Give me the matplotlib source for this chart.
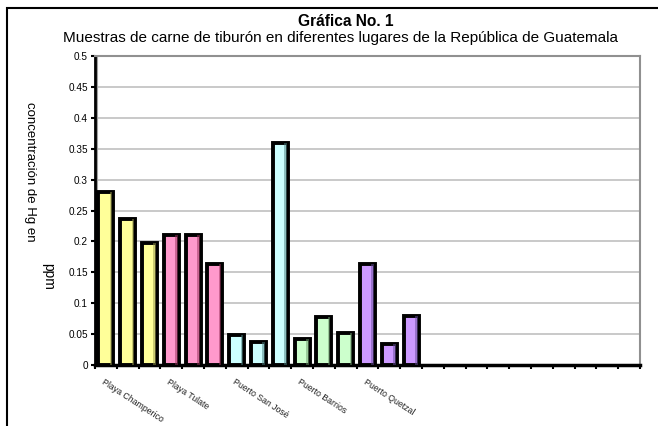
import numpy as np
from matplotlib import pyplot as plt
from matplotlib.patches import Rectangle
from matplotlib import transforms

plt.rcParams['font.family'] = ['Liberation Sans', 'DejaVu Sans']

# mercury (Hg) concentration in ppm, three samples per site
sites = ['Playa Champerico', 'Playa Tulate', 'Puerto San José', 'Puerto Barrios', 'Puerto Quetzal']
champerico = [0.28, 0.236, 0.197]
tulate = [0.21, 0.21, 0.163]
san_jose = [0.048, 0.037, 0.36]
barrios = [0.042, 0.078, 0.052]
quetzal = [0.163, 0.034, 0.079]
site_colors = ['#FFFF99', '#FF99CC', '#CCFFFF', '#CCFFCC', '#CC99FF']
side_colors = ['#99994d', '#99335c', '#4d8080', '#6b996b', '#664d99']
n_slots = 25

yticks = [0, 0.05, 0.1, 0.15, 0.2, 0.25, 0.3, 0.35, 0.4, 0.45, 0.5]
yticklabels = ['0', '0.05', '0.1', '0.15', '0.2', '0.25', '0.3', '0.35', '0.4', '0.45', '0.5']

samples = [champerico, tulate, san_jose, barrios, quetzal]
values = []
colors = []
sides = []
for s, c, d in zip(samples, site_colors, side_colors):
    values += s
    colors += [c] * len(s)
    sides += [d] * len(s)
x = np.arange(len(values))

fig = plt.figure(figsize=(6.58, 4.26), dpi=100)
ax = fig.add_axes([95/658, 1 - 365/426, 545/658, 309/426])

# gridlines on the back wall
for y in yticks[1:]:
    ax.axhline(y, color='#c0c0c0', lw=1.2, zorder=0)
ax.axvline(0.1 - 0.5, color='#a0a0a0', lw=1.5, zorder=0)

w = 0.68
ax.bar(x, values, width=w, color=colors, edgecolor='black', linewidth=2.8, zorder=3)
# darker side face of each bar
ax.bar(x + w/2 - 0.1, values, width=0.12, color=sides, edgecolor='none', zorder=4, alpha=0.5)

ax.set_xlim(-0.5, n_slots - 0.5)
ax.set_ylim(0, 0.5)
ax.set_yticks(yticks)
ax.set_yticklabels(yticklabels, fontsize=7.2)
ax.set_xticks(np.arange(n_slots + 1) - 0.5)
ax.set_xticklabels([])
ax.tick_params(axis='y', direction='out', length=3, width=1.5, pad=2)
ax.tick_params(axis='x', direction='out', length=3, width=1.5)

ax.spines['left'].set_linewidth(2)
ax.spines['bottom'].set_linewidth(2.5)
ax.spines['top'].set_color('#909090')
ax.spines['top'].set_linewidth(1.5)
ax.spines['right'].set_color('#909090')
ax.spines['right'].set_linewidth(1.5)

# site names under the first sample of each group
trans = transforms.blended_transform_factory(ax.transData, ax.transAxes)
for i, name in enumerate(sites):
    ax.text(i * 3 - 0.05, -0.04, name, transform=trans, rotation=-33,
            rotation_mode='anchor', ha='left', va='top', fontsize=6.3, color='#222222')

fig.text(346/658, 1 - 21/426, 'Gráfica No. 1', ha='center', va='center', fontsize=11.2, fontweight='bold')
fig.text(341/658, 1 - 38/426, 'Muestras de carne de tiburón en diferentes lugares de la República de Guatemala',
         ha='center', va='center', fontsize=11)

fig.text(30/658, 1 - 172/426, 'concentración de Hg en', rotation=-90, ha='center', va='center', fontsize=9.5)
fig.text(48/658, 1 - 276/426, 'ppm', rotation=-90, ha='center', va='center', fontsize=10)

# chart border
fig.patches.append(Rectangle((7/658, -0.05), 1.2, 1 - 8/426 + 0.05, transform=fig.transFigure,
                             fill=False, edgecolor='black', linewidth=1.5, figure=fig))

fig.savefig('out.png', dpi=100)
